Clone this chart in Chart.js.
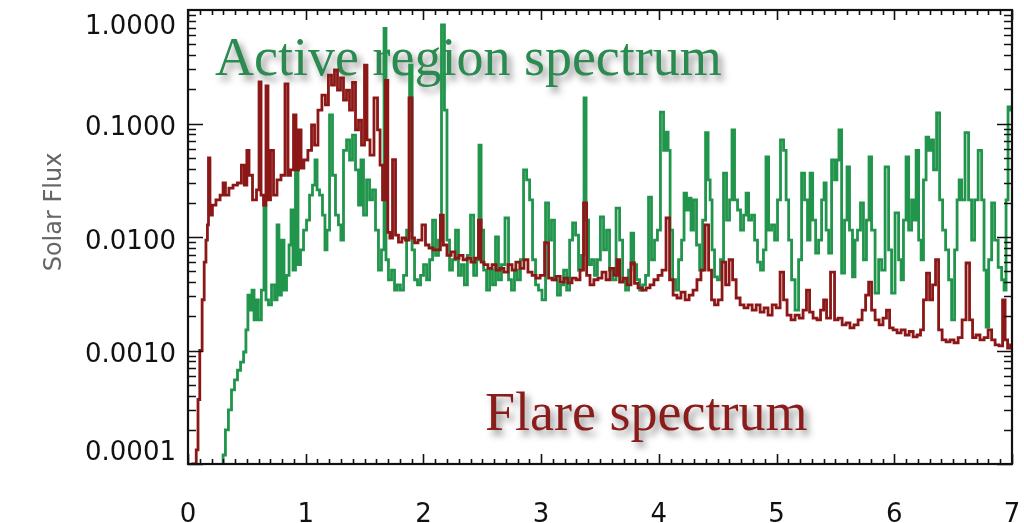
<!DOCTYPE html>
<html><head><meta charset="utf-8">
<script src="https://cdn.jsdelivr.net/npm/chart.js@4/dist/chart.umd.min.js"></script>
<style>html,body{margin:0;padding:0;background:#fff;}canvas{display:block;}</style>
</head><body>
<canvas id="c" width="1024" height="523"></canvas>
<script>
// Energy (x) and Solar Flux (y) pairs
const flareSpectrum = [
[0.02,2e-5],[0.06,1.0e-4],[0.08,1.33e-4],[0.09,3.7e-4],[0.11,1.0e-3],[0.13,2.8e-3],[0.145,6.0e-3],[0.16,9.4e-3],[0.17,1.28e-2],[0.178,4.97e-2],
[0.195,1.56e-2],[0.22,1.91e-2],[0.255,2.12e-2],[0.29,2.34e-2],[0.306,2.99e-2],[0.33,2.34e-2],[0.365,2.7e-2],[0.40,2.87e-2],[0.44,2.99e-2],[0.467,4.3e-2],
[0.49,2.87e-2],[0.51,5.8e-2],[0.527,3.5e-2],[0.569,2.12e-2],[0.595,2.6e-2],[0.612,0.232],[0.629,2.34e-2],[0.654,1.91e-2],[0.671,0.214],[0.688,2.12e-2],
[0.714,5.8e-2],[0.739,2.34e-2],[0.773,3.18e-2],[0.807,3.5e-2],[0.841,0.223],[0.858,3.5e-2],[0.884,3.9e-2],[0.909,0.119],[0.926,3.9e-2],[0.952,8.8e-2],
[0.969,4.05e-2],[1.0,4.77e-2],[1.037,5.8e-2],[1.062,9.7e-2],[1.088,6.46e-2],[1.12,0.131],[1.155,0.178],[1.18,0.146],[1.206,0.267],[1.232,0.218],
[1.257,0.296],[1.283,0.197],[1.308,0.252],[1.334,0.161],[1.359,0.197],[1.385,0.131],[1.41,0.23],[1.436,0.088],[1.461,0.107],[1.487,0.0646],
[1.512,0.327],[1.529,0.0716],[1.563,0.0527],[1.597,0.168],[1.623,0.088],[1.64,0.043],[1.665,0.0212],[1.69,0.24],[1.705,0.011],[1.725,0.0098],
[1.75,0.048],[1.776,0.0104],[1.80,0.009],[1.835,0.0098],[1.86,0.0094],[1.895,0.168],[1.912,0.0098],[1.937,0.0089],[1.97,0.0094],[2.005,0.0128],
[2.03,0.0085],[2.065,0.008],[2.1,0.0077],[2.13,0.0077],[2.158,0.0156],[2.18,0.0085],[2.22,0.0069],[2.25,0.0074],[2.285,0.0065],[2.32,0.0069],
[2.353,0.0063],[2.387,0.0065],[2.42,0.006],[2.455,0.0065],[2.48,0.0141],[2.5,0.006],[2.53,0.0057],[2.566,0.0053],[2.6,0.0057],[2.634,0.0051],
[2.668,0.0053],[2.70,0.0049],[2.736,0.0057],[2.77,0.0051],[2.80,0.006],[2.838,0.0053],[2.87,0.0063],[2.906,0.0049],[2.94,0.0046],[2.974,0.00435],
[3.008,0.0046],[3.05,0.0089],[3.076,0.00435],[3.11,0.0042],[3.144,0.0045],[3.18,0.004],[3.21,0.00435],[3.245,0.00395],[3.28,0.00435],[3.313,0.0042],
[3.347,0.0051],[3.373,0.02],[3.4,0.0046],[3.43,0.00378],[3.466,0.0042],[3.5,0.00435],[3.534,0.0049],[3.568,0.0042],[3.60,0.0053],[3.636,0.0046],
[3.653,0.0063],[3.68,0.004],[3.713,0.00435],[3.747,0.00378],[3.78,0.0059],[3.806,0.0039],[3.84,0.00356],[3.874,0.0034],[3.91,0.00356],[3.94,0.00378],
[3.976,0.0042],[4.01,0.0046],[4.044,0.0051],[4.078,0.0147],[4.104,0.0042],[4.138,0.00308],[4.17,0.0029],[4.206,0.00327],[4.24,0.00279],[4.274,0.00308],
[4.307,0.0034],[4.34,0.0042],[4.375,0.0051],[4.41,0.0128],[4.435,0.0051],[4.46,0.00279],[4.486,0.00252],[4.52,0.00279],[4.554,0.006],[4.58,0.00378],
[4.613,0.0063],[4.64,0.0042],[4.673,0.0029],[4.707,0.00252],[4.74,0.00237],[4.775,0.00252],[4.81,0.00227],[4.843,0.00252],[4.877,0.00218],[4.91,0.00237],
[4.945,0.00205],[4.98,0.00252],[5.013,0.00237],[5.047,0.0049],[5.072,0.00279],[5.106,0.00205],[5.14,0.00186],[5.174,0.00205],[5.21,0.00193],[5.24,0.00227],
[5.268,0.0034],[5.293,0.00218],[5.327,0.00193],[5.36,0.00186],[5.387,0.00227],[5.412,0.00279],[5.437,0.00193],[5.48,0.0049],[5.505,0.00186],[5.54,0.00193],
[5.574,0.00168],[5.607,0.00175],[5.64,0.00158],[5.675,0.00168],[5.71,0.00186],[5.743,0.00227],[5.77,0.00308],[5.794,0.004],[5.82,0.00227],[5.854,0.00186],
[5.888,0.00168],[5.92,0.00193],[5.947,0.00227],[5.973,0.00158],[6.007,0.00152],[6.04,0.00143],[6.075,0.00152],[6.11,0.00137],[6.143,0.00147],[6.177,0.00132],
[6.21,0.00137],[6.236,0.00152],[6.26,0.00279],[6.287,0.0048],[6.313,0.00279],[6.338,0.00378],[6.363,0.0063],[6.39,0.00152],[6.423,0.00124],[6.457,0.00119],
[6.49,0.00124],[6.525,0.00117],[6.56,0.0013],[6.592,0.00186],[6.627,0.0059],[6.652,0.00186],[6.678,0.0013],[6.71,0.00137],[6.746,0.00124],[6.78,0.0013],
[6.814,0.00152],[6.84,0.00124],[6.873,0.00112],[6.907,0.0011],[6.933,0.00279],[6.95,0.00124],[6.975,0.00105],[7.0,0.00112]
];
const activeSpectrum = [
[0.27,5e-5],[0.29,9e-5],[0.306,1.2e-4],[0.33,2.0e-4],[0.357,3.0e-4],[0.382,4.5e-4],[0.408,5.5e-4],[0.433,6.7e-4],[0.46,7.9e-4],[0.484,9.7e-4],
[0.50,1.52e-3],[0.518,3.08e-3],[0.535,2.27e-3],[0.552,3.4e-3],[0.57,1.86e-3],[0.586,2.79e-3],[0.61,1.86e-3],[0.637,3.4e-3],[0.654,1.84e-2],[0.671,2.79e-3],
[0.697,2.52e-3],[0.722,3.78e-3],[0.748,2.79e-3],[0.765,1.28e-2],[0.78,3.08e-3],[0.807,9.4e-3],[0.824,3.4e-3],[0.85,4.6e-3],[0.867,8.5e-3],[0.884,1.73e-2],
[0.90,5.1e-3],[0.926,3.74e-2],[0.943,5.7e-3],[0.969,7.7e-3],[0.994,1.15e-2],[1.02,1.41e-2],[1.045,2.34e-2],[1.07,2.87e-2],[1.088,4.77e-2],[1.105,2.6e-2],
[1.13,2.34e-2],[1.155,1.56e-2],[1.172,7.7e-3],[1.19,1.15e-2],[1.215,0.119],[1.24,3.5e-2],[1.266,1.56e-2],[1.29,1.28e-2],[1.308,9.4e-3],[1.334,5.8e-2],
[1.36,7.16e-2],[1.385,4.77e-2],[1.41,7.9e-2],[1.436,3.9e-2],[1.461,1.91e-2],[1.478,4.77e-2],[1.504,1.56e-2],[1.53,3.18e-2],[1.555,2.12e-2],[1.58,2.6e-2],
[1.606,1.15e-2],[1.63,5.1e-3],[1.657,7.7e-3],[1.674,0.69],[1.69,6.3e-3],[1.716,4.2e-3],[1.742,5.1e-3],[1.767,3.4e-3],[1.79,3.78e-3],[1.818,3.4e-3],
[1.844,4.6e-3],[1.87,1.15e-2],[1.895,0.327],[1.912,7.7e-3],[1.937,4.2e-3],[1.963,3.78e-3],[1.988,4.6e-3],[2.014,5.7e-3],[2.04,4.2e-3],[2.065,6.3e-3],
[2.09,1.41e-2],[2.116,6.9e-3],[2.14,9.4e-3],[2.167,0.74],[2.19,0.131],[2.21,9.4e-3],[2.234,5.1e-3],[2.26,6.3e-3],[2.285,1.15e-2],[2.31,4.6e-3],
[2.336,5.7e-3],[2.36,3.78e-3],[2.387,6.9e-3],[2.413,1.56e-2],[2.44,4.6e-3],[2.464,6.3e-3],[2.48,6.46e-2],[2.5,1.15e-2],[2.523,5.1e-3],[2.55,3.4e-3],
[2.574,5.1e-3],[2.6,3.78e-3],[2.625,1.0e-2],[2.65,4.2e-3],[2.676,5.7e-3],[2.71,1.47e-2],[2.736,4.2e-3],[2.76,3.4e-3],[2.787,5.1e-3],[2.81,4.2e-3],
[2.838,6.3e-3],[2.863,3.9e-2],[2.89,3.18e-2],[2.914,2.12e-2],[2.94,6.3e-3],[2.965,3.78e-3],[2.99,3.4e-3],[3.025,2.79e-3],[3.05,2.0e-2],[3.076,9.4e-3],
[3.1,1.41e-2],[3.127,4.2e-3],[3.15,3.08e-3],[3.178,3.78e-3],[3.203,5.1e-3],[3.23,3.4e-3],[3.254,9.4e-3],[3.28,1.33e-2],[3.305,1.04e-2],[3.33,5.1e-3],
[3.356,6.9e-3],[3.373,0.168],[3.39,1.41e-2],[3.416,5.7e-3],[3.44,6.3e-3],[3.466,4.6e-3],[3.49,6.3e-3],[3.517,1.5e-2],[3.543,7.7e-3],[3.568,1.15e-2],
[3.594,5.1e-3],[3.62,4.2e-3],[3.653,1.8e-2],[3.68,9.4e-3],[3.704,4.2e-3],[3.73,3.4e-3],[3.755,5.1e-3],[3.772,1.08e-2],[3.8,5.7e-3],[3.823,4.2e-3],
[3.85,3.4e-3],[3.874,3.78e-3],[3.9,4.6e-3],[3.925,2.25e-2],[3.95,6.3e-3],[3.976,9.4e-3],[4.0,1.15e-2],[4.027,0.126],[4.053,5.8e-2],[4.07,8.4e-2],
[4.087,5.8e-2],[4.104,1.15e-2],[4.13,4.2e-3],[4.155,3.4e-3],[4.18,6.3e-3],[4.206,9.4e-3],[4.222,2.44e-2],[4.248,1.73e-2],[4.265,2.2e-2],[4.282,1.15e-2],
[4.307,2.12e-2],[4.333,8.5e-3],[4.36,5.1e-3],[4.384,1.41e-2],[4.41,8.3e-2],[4.427,3.18e-2],[4.444,2.12e-2],[4.46,7.7e-3],[4.486,4.45e-3],[4.51,4.2e-3],
[4.537,6.3e-3],[4.562,3.66e-2],[4.588,1.41e-2],[4.613,2.12e-2],[4.63,8.8e-2],[4.656,2.12e-2],[4.681,1.73e-2],[4.707,1.15e-2],[4.732,1.56e-2],[4.75,2.44e-2],
[4.775,1.41e-2],[4.8,1.56e-2],[4.826,9.4e-3],[4.85,6.0e-3],[4.877,5.1e-3],[4.9,7.7e-3],[4.92,5.07e-2],[4.945,1.15e-2],[4.97,1.28e-2],[4.996,9.4e-3],
[5.02,2.12e-2],[5.047,7.16e-2],[5.072,5.8e-2],[5.09,2.12e-2],[5.115,9.4e-3],[5.14,4.2e-3],[5.174,2.27e-3],[5.2,6.3e-3],[5.225,3.66e-2],[5.25,2.12e-2],
[5.276,9.4e-3],[5.293,3.66e-2],[5.32,1.41e-2],[5.344,7.2e-3],[5.37,9.4e-3],[5.395,2.12e-2],[5.412,2.99e-2],[5.43,1.15e-2],[5.455,7.2e-3],[5.48,4.77e-2],
[5.505,3.18e-2],[5.52,4.77e-2],[5.54,8.8e-2],[5.565,4.8e-3],[5.59,1.41e-2],[5.607,4.14e-2],[5.632,1.15e-2],[5.658,4.45e-3],[5.675,9.4e-3],[5.7,1.15e-2],
[5.726,2.0e-2],[5.75,6.3e-3],[5.777,1.41e-2],[5.794,5.07e-2],[5.82,1.15e-2],[5.854,3.2e-3],[5.88,6.3e-3],[5.905,5.1e-3],[5.939,4.14e-2],[5.964,7.7e-3],
[5.99,3.2e-3],[6.023,1.63e-2],[6.05,6.3e-3],[6.066,4.2e-3],[6.09,1.41e-2],[6.11,5.07e-2],[6.134,1.15e-2],[6.16,2.12e-2],[6.177,1.41e-2],[6.194,5.8e-2],
[6.22,9.4e-3],[6.236,6.3e-3],[6.26,3.18e-2],[6.28,7.6e-2],[6.304,5.8e-2],[6.32,7.16e-2],[6.347,3.9e-2],[6.372,0.124],[6.398,2.12e-2],[6.423,1.15e-2],
[6.449,7.7e-3],[6.474,4.2e-3],[6.5,1.86e-3],[6.525,7.7e-3],[6.542,2.12e-2],[6.56,3.18e-2],[6.584,2.12e-2],[6.618,8.3e-2],[6.644,2.12e-2],[6.67,9.4e-3],
[6.695,2.12e-2],[6.73,5.8e-2],[6.754,2.12e-2],[6.771,5.1e-3],[6.79,1.61e-3],[6.814,6.3e-3],[6.84,2.0e-2],[6.865,9.4e-3],[6.9,5.4e-3],[6.924,4.2e-3],
[6.941,3.4e-3],[6.958,2.12e-2],[6.975,0.14],[7.0,0.131]
];
const yTickValues = [1, 0.1, 0.01, 0.001, 0.0001];
const xTickValues = [0, 1, 2, 3, 4, 5, 6, 7];
const yAxisTitle = 'Solar Flux';
const activeLabel = 'Active region spectrum';
const flareLabel = 'Flare spectrum';

const GREEN = '#21954b';
const RED = '#8c1717';
const TICK_FONT = "26px 'DejaVu Sans', sans-serif";

const textPlugin = {
  id: 'texts',
  beforeDatasetsDraw(chart) {
    const ctx = chart.ctx;
    ctx.save();
    ctx.font = "54px 'Liberation Serif', 'Times New Roman', serif";
    ctx.textBaseline = 'alphabetic';
    ctx.textAlign = 'left';
    ctx.shadowColor = 'rgba(0,0,0,0.45)';
    ctx.shadowBlur = 7;
    ctx.shadowOffsetX = 4;
    ctx.shadowOffsetY = 5;
    ctx.fillStyle = '#2a8a50';
    ctx.fillText(activeLabel, 215, 75);
    ctx.fillStyle = '#8a1c1c';
    ctx.fillText(flareLabel, 485, 430);
    ctx.restore();
  },
  afterDraw(chart) {
    const {ctx, chartArea: a, scales: {y}} = chart;
    ctx.save();
    // y tick labels (positioned from the log scale, nudged inside the frame like the original)
    ctx.font = TICK_FONT;
    ctx.fillStyle = '#111';
    ctx.textAlign = 'right';
    ctx.textBaseline = 'middle';
    yTickValues.forEach(v => {
      let py = y.getPixelForValue(v) + 5;
      py = Math.max(a.top + 17, Math.min(a.bottom - 11, py));
      ctx.fillText(v.toFixed(4), 176, py);
    });
    // y axis title
    ctx.translate(55, 212);
    ctx.rotate(-Math.PI / 2);
    ctx.font = "24px 'DejaVu Sans', sans-serif";
    ctx.fillStyle = '#666';
    ctx.textAlign = 'center';
    ctx.textBaseline = 'middle';
    ctx.fillText(yAxisTitle, 0, 0);
    ctx.restore();
  }
};

const framePlugin = {
  id: 'frame',
  afterDatasetsDraw(chart) {
    const {ctx, chartArea: a, scales: {x, y}} = chart;
    ctx.save();
    ctx.strokeStyle = '#111';
    ctx.lineWidth = 1.6;
    ctx.beginPath();
    for (let i = 0; i <= 70; i++) {
      const px = Math.round(x.getPixelForValue(i / 10)) + 0.5;
      const len = (i % 10 === 0) ? 10 : 5;
      ctx.moveTo(px, a.bottom); ctx.lineTo(px, a.bottom - len);
      ctx.moveTo(px, a.top); ctx.lineTo(px, a.top + len);
    }
    for (let d = -4; d < 0; d++) {
      for (let m = 1; m <= 9; m++) {
        const py = Math.round(y.getPixelForValue(m * Math.pow(10, d))) + 0.5;
        const len = (m === 1) ? 15 : 8;
        ctx.moveTo(a.left, py); ctx.lineTo(a.left + len, py);
        ctx.moveTo(a.right, py); ctx.lineTo(a.right - len, py);
      }
    }
    ctx.stroke();
    ctx.lineWidth = 2.2;
    ctx.strokeRect(a.left, a.top, a.right - a.left, a.bottom - a.top);
    ctx.restore();
  }
};

new Chart(document.getElementById('c'), {
  type: 'line',
  data: {
    datasets: [
      {label: 'Flare', data: flareSpectrum.map(p => ({x: p[0], y: p[1]})), borderColor: RED, borderWidth: 2.8, pointRadius: 0, stepped: 'middle', fill: false, clip: 0},
      {label: 'Active region', data: activeSpectrum.map(p => ({x: p[0], y: p[1]})), borderColor: GREEN, borderWidth: 2.8, pointRadius: 0, stepped: 'middle', fill: false, clip: 0}
    ]
  },
  options: {
    responsive: false,
    animation: false,
    devicePixelRatio: 1,
    layout: {padding: {left: 0, right: 12, top: 10, bottom: 0}},
    plugins: {legend: {display: false}, tooltip: {enabled: false}},
    scales: {
      x: {
        type: 'linear', min: 0, max: 7,
        grid: {display: false}, border: {display: false},
        ticks: {font: {family: "'DejaVu Sans', sans-serif", size: 26}, color: '#111', padding: 28, autoSkip: false, maxRotation: 0,
          callback: v => String(v)},
        afterBuildTicks: s => { s.ticks = xTickValues.map(v => ({value: v})); },
        afterFit: s => { s.height = 59; s.paddingLeft = 0; s.paddingRight = 0; }
      },
      y: {
        type: 'logarithmic', min: 0.0001, max: 1,
        grid: {display: false}, border: {display: false},
        ticks: {display: false},
        afterBuildTicks: s => { s.ticks = yTickValues.map(v => ({value: v})); },
        afterFit: s => { s.width = 188; s.paddingTop = 0; s.paddingBottom = 0; }
      }
    }
  },
  plugins: [textPlugin, framePlugin]
});
</script>
</body></html>
